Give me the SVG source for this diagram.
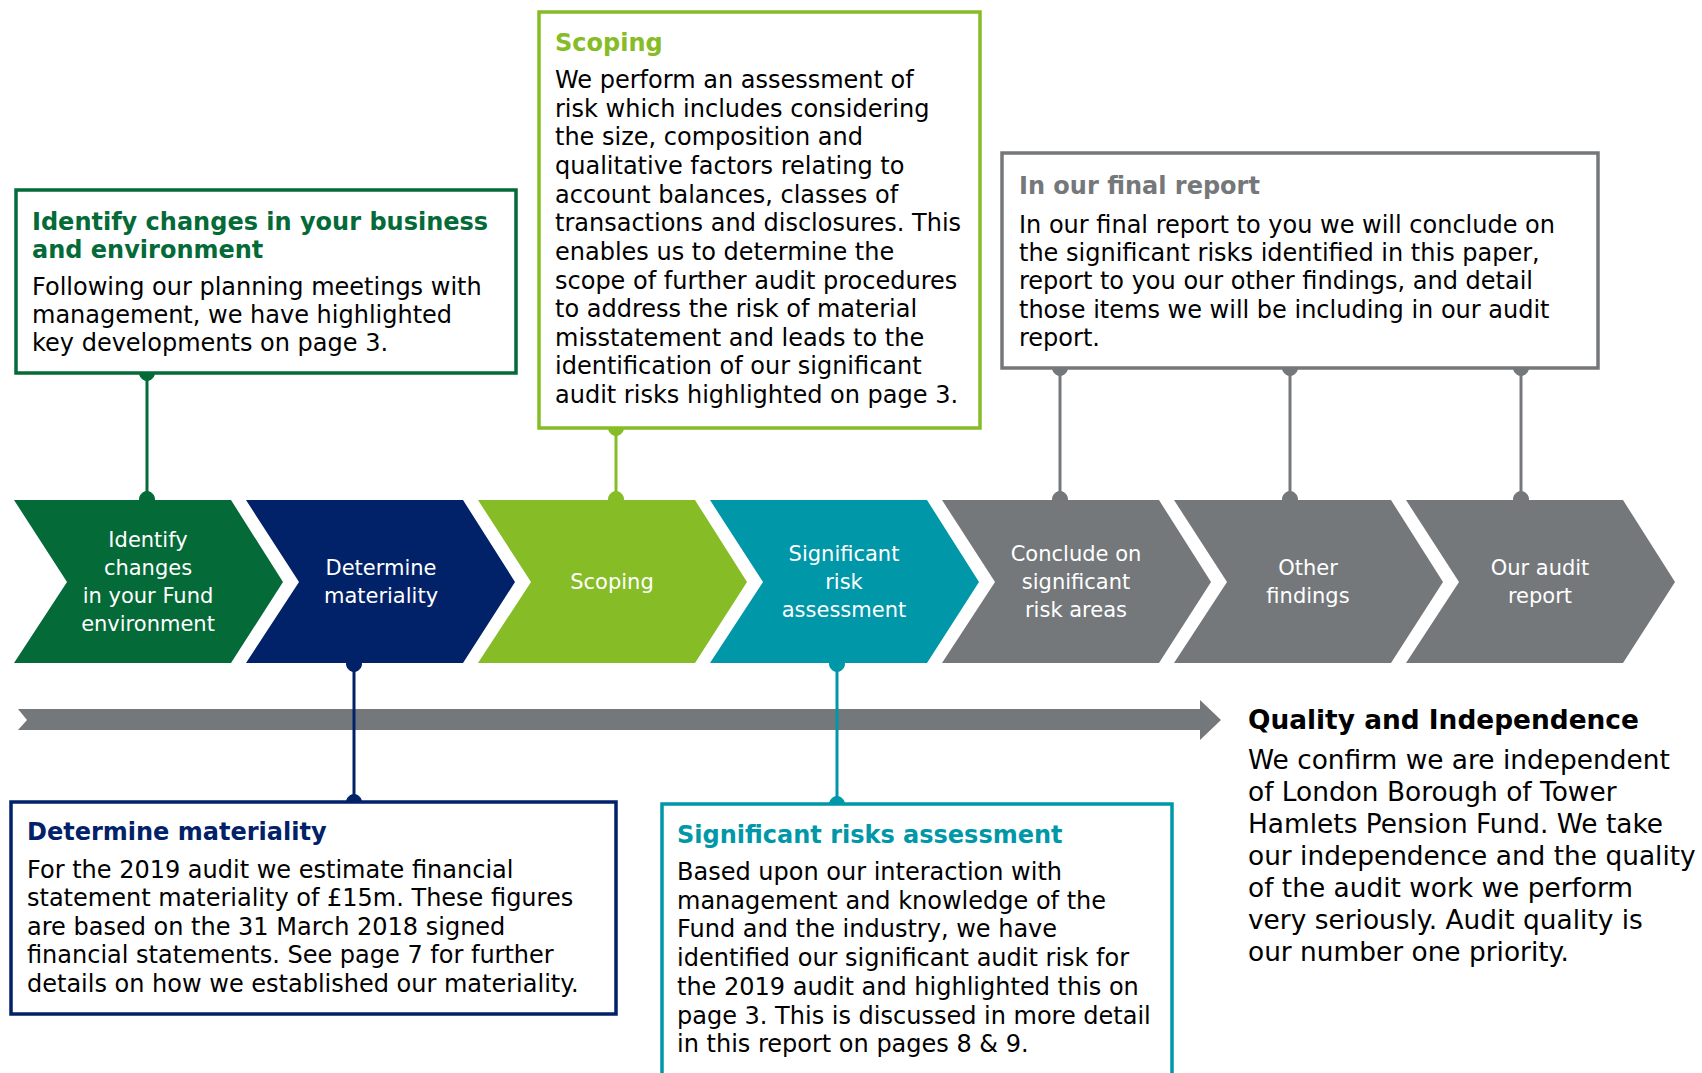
<svg xmlns="http://www.w3.org/2000/svg" width="1702" height="1073" viewBox="0 0 1702 1073">
<style>
  text { font-family: "DejaVu Sans", Verdana, sans-serif; }
  .body { font-size: 24px; fill: #000; }
  .title { font-size: 24px; font-weight: bold; }
  .chev { font-size: 21px; fill: #fff; text-anchor: middle; }
  .box { fill: #fff; stroke-width: 3.5; }
  .conn { stroke-width: 3; fill: none; }
  .q { font-size: 26.4px; fill: #000; }
</style>
<defs>
  <path id="chevron" d="M0,500 L217,500 L269,582 L217,663 L0,663 L53,582 Z"/>
</defs>
<rect width="1702" height="1073" fill="#fff"/>

<!-- timeline arrow -->
<g id="timeline">
  <path d="M18,709 L1200,709 L1200,700 L1221,720 L1200,740 L1200,730 L18,730 L27,720 Z" fill="#75787b"/>
</g>

<!-- chevrons -->
<g id="step1"><use href="#chevron" x="14" fill="#046a38"/>
  <text class="chev" x="148" y="547">Identify</text>
  <text class="chev" x="148" y="575">changes</text>
  <text class="chev" x="148" y="603">in your Fund</text>
  <text class="chev" x="148" y="631">environment</text></g>
<g id="step2"><use href="#chevron" x="246" fill="#012169"/>
  <text class="chev" x="381" y="575">Determine</text>
  <text class="chev" x="381" y="603">materiality</text></g>
<g id="step3"><use href="#chevron" x="478" fill="#86bc25"/>
  <text class="chev" x="612" y="589">Scoping</text></g>
<g id="step4"><use href="#chevron" x="710" fill="#0097a9"/>
  <text class="chev" x="844" y="561">Significant</text>
  <text class="chev" x="844" y="589">risk</text>
  <text class="chev" x="844" y="617">assessment</text></g>
<g id="step5"><use href="#chevron" x="942" fill="#75787b"/>
  <text class="chev" x="1076" y="561">Conclude on</text>
  <text class="chev" x="1076" y="589">significant</text>
  <text class="chev" x="1076" y="617">risk areas</text></g>
<g id="step6"><use href="#chevron" x="1174" fill="#75787b"/>
  <text class="chev" x="1308" y="575">Other</text>
  <text class="chev" x="1308" y="603">findings</text></g>
<g id="step7"><use href="#chevron" x="1406" fill="#75787b"/>
  <text class="chev" x="1540" y="575">Our audit</text>
  <text class="chev" x="1540" y="603">report</text></g>

<!-- connectors -->
<g id="connectors">
  <g stroke="#046a38" fill="#046a38"><line class="conn" x1="147" y1="373" x2="147" y2="499"/><circle cx="147" cy="373" r="7.5"/><circle cx="147" cy="499" r="7.5"/></g>
  <g stroke="#86bc25" fill="#86bc25"><line class="conn" x1="616" y1="428" x2="616" y2="499"/><circle cx="616" cy="428" r="7.5"/><circle cx="616" cy="499" r="7.5"/></g>
  <g stroke="#75787b" fill="#75787b">
    <line class="conn" x1="1060" y1="368" x2="1060" y2="499"/><circle cx="1060" cy="368" r="7.5"/><circle cx="1060" cy="499" r="7.5"/>
    <line class="conn" x1="1290" y1="368" x2="1290" y2="499"/><circle cx="1290" cy="368" r="7.5"/><circle cx="1290" cy="499" r="7.5"/>
    <line class="conn" x1="1521" y1="368" x2="1521" y2="499"/><circle cx="1521" cy="368" r="7.5"/><circle cx="1521" cy="499" r="7.5"/>
  </g>
  <g stroke="#012169" fill="#012169"><line class="conn" x1="354" y1="664" x2="354" y2="802"/><circle cx="354" cy="664" r="7.5"/><circle cx="354" cy="802" r="7.5"/></g>
  <g stroke="#0097a9" fill="#0097a9"><line class="conn" x1="837" y1="664" x2="837" y2="804"/><circle cx="837" cy="664" r="7.5"/><circle cx="837" cy="804" r="7.5"/></g>
</g>

<!-- box 1 -->
<g id="box-identify">
  <rect class="box" x="16" y="190" width="500" height="183" stroke="#046a38"/>
  <text class="title" fill="#046a38" x="32" y="229.5">Identify changes in your business</text>
  <text class="title" fill="#046a38" x="32" y="258">and environment</text>
  <text class="body" x="32" y="295">Following our planning meetings with</text>
  <text class="body" x="32" y="323">management, we have highlighted</text>
  <text class="body" x="32" y="351">key developments on page 3.</text>
</g>

<!-- box 2 -->
<g id="box-scoping">
  <rect class="box" x="539" y="12" width="441" height="416" stroke="#86bc25"/>
  <text class="title" fill="#86bc25" x="555" y="51">Scoping</text>
  <text class="body" x="555" y="88">We perform an assessment of</text>
  <text class="body" x="555" y="116.6">risk which includes considering</text>
  <text class="body" x="555" y="145.3">the size, composition and</text>
  <text class="body" x="555" y="173.9">qualitative factors relating to</text>
  <text class="body" x="555" y="202.6">account balances, classes of</text>
  <text class="body" x="555" y="231.2">transactions and disclosures. This</text>
  <text class="body" x="555" y="259.8">enables us to determine the</text>
  <text class="body" x="555" y="288.5">scope of further audit procedures</text>
  <text class="body" x="555" y="317.1">to address the risk of material</text>
  <text class="body" x="555" y="345.8">misstatement and leads to the</text>
  <text class="body" x="555" y="374.4">identification of our significant</text>
  <text class="body" x="555" y="403">audit risks highlighted on page 3.</text>
</g>

<!-- box 3 -->
<g id="box-final">
  <rect class="box" x="1002" y="153" width="596" height="215" stroke="#75787b"/>
  <text class="title" fill="#75787b" x="1019" y="194">In our final report</text>
  <text class="body" x="1019" y="232.5">In our final report to you we will conclude on</text>
  <text class="body" x="1019" y="260.9">the significant risks identified in this paper,</text>
  <text class="body" x="1019" y="289.3">report to you our other findings, and detail</text>
  <text class="body" x="1019" y="317.7">those items we will be including in our audit</text>
  <text class="body" x="1019" y="346.1">report.</text>
</g>

<!-- box 4 -->
<g id="box-materiality">
  <rect class="box" x="11" y="802" width="605" height="212" stroke="#012169"/>
  <text class="title" fill="#012169" x="27" y="840">Determine materiality</text>
  <text class="body" x="27" y="877.5">For the 2019 audit we estimate financial</text>
  <text class="body" x="27" y="906">statement materiality of £15m. These figures</text>
  <text class="body" x="27" y="934.5">are based on the 31 March 2018 signed</text>
  <text class="body" x="27" y="963">financial statements. See page 7 for further</text>
  <text class="body" x="27" y="991.5">details on how we established our materiality.</text>
</g>

<!-- box 5 -->
<g id="box-significant">
  <rect class="box" x="662" y="804" width="510" height="300" stroke="#0097a9"/>
  <text class="title" fill="#0097a9" x="677" y="843">Significant risks assessment</text>
  <text class="body" x="677" y="880">Based upon our interaction with</text>
  <text class="body" x="677" y="908.7">management and knowledge of the</text>
  <text class="body" x="677" y="937.4">Fund and the industry, we have</text>
  <text class="body" x="677" y="966.1">identified our significant audit risk for</text>
  <text class="body" x="677" y="994.8">the 2019 audit and highlighted this on</text>
  <text class="body" x="677" y="1023.5">page 3. This is discussed in more detail</text>
  <text class="body" x="677" y="1052.2">in this report on pages 8 &amp; 9.</text>
</g>

<!-- quality -->
<g id="quality">
  <text class="q" x="1248" y="729" font-weight="bold">Quality and Independence</text>
  <text class="q" x="1248" y="769">We confirm we are independent</text>
  <text class="q" x="1248" y="801">of London Borough of Tower</text>
  <text class="q" x="1248" y="833">Hamlets Pension Fund. We take</text>
  <text class="q" x="1248" y="865">our independence and the quality</text>
  <text class="q" x="1248" y="897">of the audit work we perform</text>
  <text class="q" x="1248" y="929">very seriously. Audit quality is</text>
  <text class="q" x="1248" y="961">our number one priority.</text>
</g>
</svg>
